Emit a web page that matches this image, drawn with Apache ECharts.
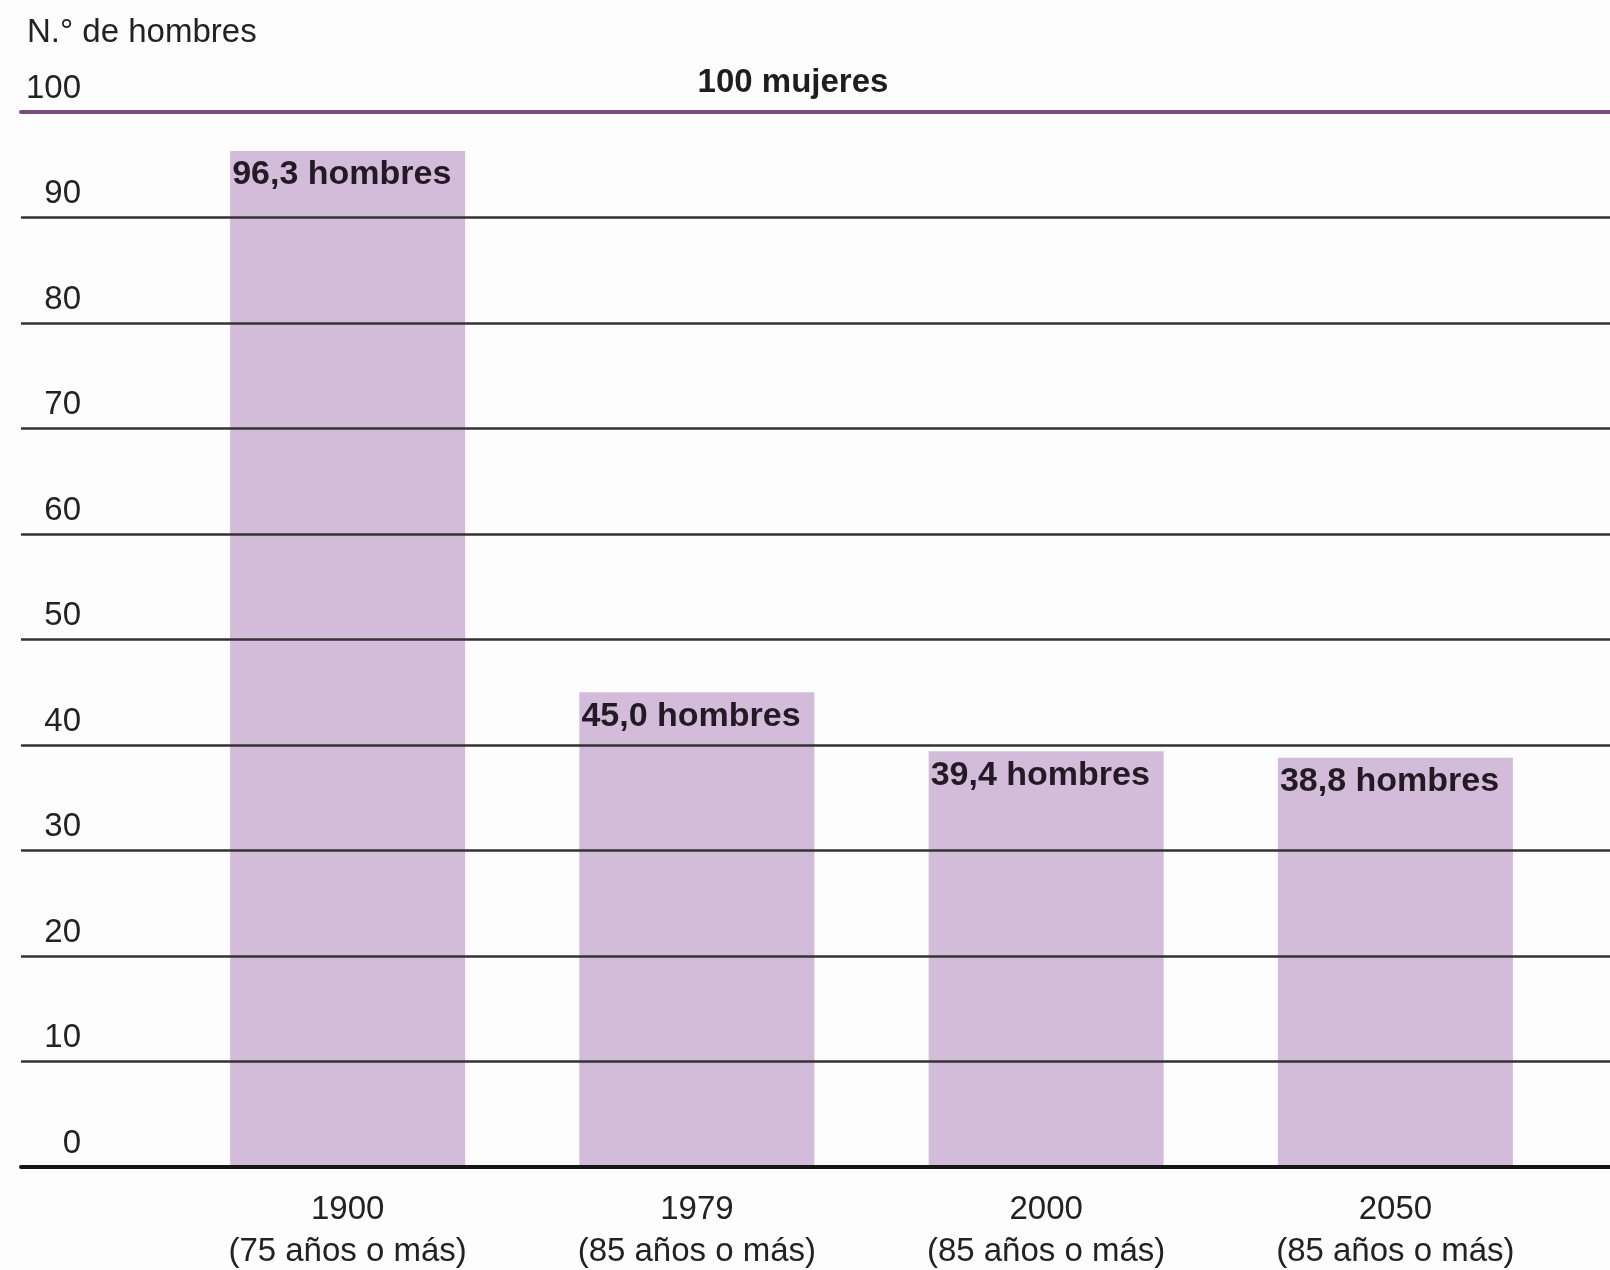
<!DOCTYPE html>
<html>
<head>
<meta charset="utf-8">
<script src="https://cdn.jsdelivr.net/npm/echarts@6/dist/echarts.min.js"></script>
<style>
  html, body { margin: 0; padding: 0; background: #fdfdfd; }
  #chart { width: 1610px; height: 1270px; }
</style>
</head>
<body>
<div id="chart"></div>
<script>
// ---- Data ----
const years = ['1900', '1979', '2000', '2050'];
const ageGroups = ['(75 años o más)', '(85 años o más)', '(85 años o más)', '(85 años o más)'];
const menPer100Women = [96.3, 45.0, 39.4, 38.8];
const yAxisTitle = 'N.° de hombres';
const referenceLabel = '100 mujeres';
const valueSuffix = ' hombres';

const FONT = '"Liberation Sans", Arial, Helvetica, sans-serif';
const categoryLabels = years.map((y, i) => y + '\n' + ageGroups[i]);

const chart = echarts.init(document.getElementById('chart'));
chart.setOption({
  backgroundColor: '#fdfdfd',
  animation: false,
  textStyle: { fontFamily: FONT },
  title: {
    text: yAxisTitle,
    left: 22,
    top: 11,
    textStyle: { fontFamily: FONT, fontSize: 33, fontWeight: 'normal', color: '#222' }
  },
  graphic: [{
    type: 'text',
    x: 793,
    y: 83,
    style: {
      text: referenceLabel,
      textAlign: 'center',
      textVerticalAlign: 'middle',
      fontFamily: FONT,
      fontSize: 33,
      fontWeight: 'bold',
      fill: '#1e1e1e'
    }
  }],
  grid: [
    { left: 21, right: 0, top: 112, bottom: 103, outerBoundsMode: 'none', containLabel: false },
    { left: 173, right: 40, top: 112, bottom: 103, outerBoundsMode: 'none', containLabel: false }
  ],
  xAxis: [
    {
      gridIndex: 0, type: 'value', min: 0, max: 1, position: 'bottom', z: 5,
      axisLine: { show: true, onZero: false, lineStyle: { color: '#161616', width: 4 } },
      axisTick: { show: false }, axisLabel: { show: false }, splitLine: { show: false }
    },
    {
      gridIndex: 0, type: 'value', min: 0, max: 1, position: 'top', z: 5,
      axisLine: { show: true, onZero: false, lineStyle: { color: '#7a4c80', width: 4 } },
      axisTick: { show: false }, axisLabel: { show: false }, splitLine: { show: false }
    },
    {
      gridIndex: 1, type: 'category', data: categoryLabels,
      axisLine: { show: false }, axisTick: { show: false },
      axisLabel: { margin: 22, fontFamily: FONT, fontSize: 33, lineHeight: 42, color: '#222', align: 'center' }
    }
  ],
  yAxis: [
    {
      gridIndex: 0, type: 'value', min: 0, max: 100, interval: 10, z: 3,
      axisLine: { show: false }, axisTick: { show: false },
      splitLine: { show: true, lineStyle: { color: '#333333', width: 2.5 } },
      axisLabel: {
        margin: -60, align: 'right', verticalAlign: 'bottom',
        lineHeight: 47,
        fontFamily: FONT, fontSize: 33, color: '#222'
      }
    },
    {
      gridIndex: 1, type: 'value', min: 0, max: 100, interval: 10, show: false
    }
  ],
  series: [{
    type: 'bar',
    xAxisIndex: 2,
    yAxisIndex: 1,
    data: menPer100Women,
    barWidth: 235,
    itemStyle: { color: '#d3bcd9' },
    label: {
      show: true,
      position: 'insideTopLeft',
      distance: 0,
      offset: [2, 7],
      formatter: p => p.value.toFixed(1).replace('.', ',') + valueSuffix,
      fontFamily: FONT,
      fontSize: 34,
      fontWeight: 'bold',
      lineHeight: 34,
      color: '#231a26'
    }
  }]
});
</script>
</body>
</html>
